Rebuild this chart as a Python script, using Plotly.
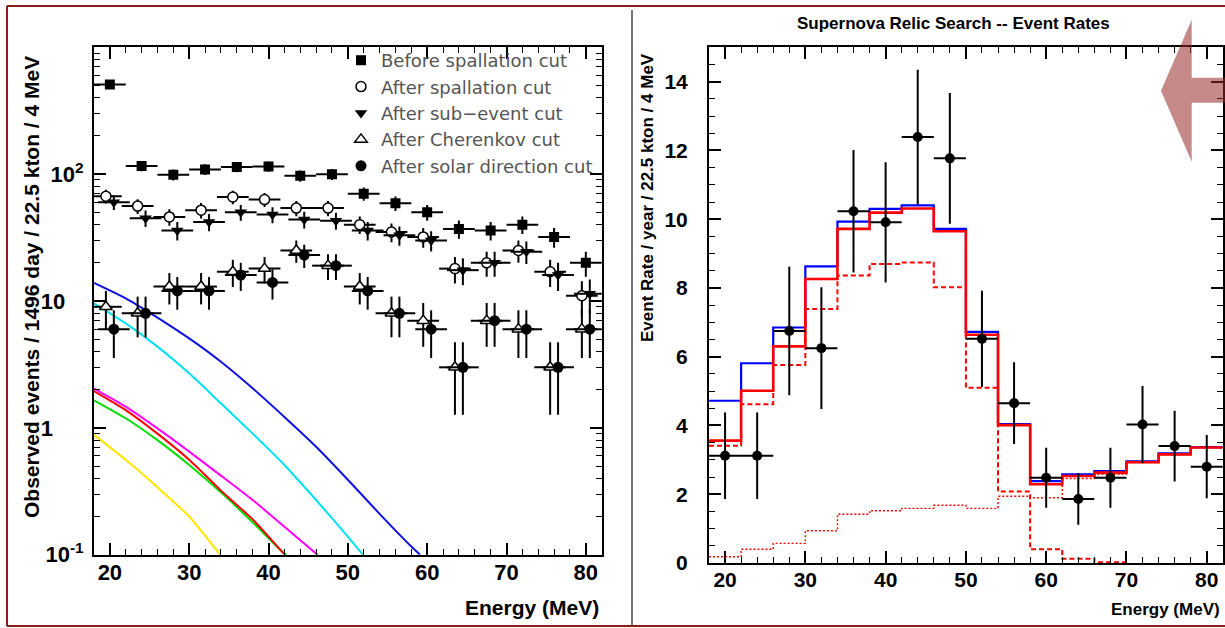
import plotly.graph_objects as go
import math

W, H = 1225, 628

# ---------------- Left panel: observed events ----------------
bin_centers = [20, 24, 28, 32, 36, 40, 44, 48, 52, 56, 60, 64, 68, 72, 76, 80]
before_spallation = [510, 116, 99, 109, 114, 115, 97, 100, 70, 59, 50, 37, 36, 40, 32, 20]
after_spallation = [67, 56, 46, 52, 66, 63, 54, 54, 40, 35, 32, 18, 20, 25, 17, 11]
after_subevent = [60, 45, 36, 42, 50, 48, 44, 43, 36, 33, 30, 17.5, 20, 24.5, 16, 11.4]
after_cherenkov = [9, 8, 13, 13, 17, 18, 25, 19, 13, 8, 7, 3, 7, 6, 3, 6]
after_solar = [6, 8, 12, 12, 16, 14, 23, 19, 12, 8, 6, 3, 7, 6, 3, 6]

# model curves (energy, events)
blue_E = [18, 22, 26, 30, 34, 38, 42, 46, 50, 54, 58, 59.1]
blue_V = [13.9, 10.5, 7.4, 5.07, 3.32, 2.05, 1.22, 0.71, 0.39, 0.21, 0.116, 0.1]
cyan_E = [18, 22, 26, 30, 34, 38, 42, 46, 50, 51.9]
cyan_V = [9.6, 6.66, 4.37, 2.69, 1.56, 0.90, 0.51, 0.27, 0.139, 0.1]
magenta_E = [18, 22, 26, 30, 34, 38, 42, 46, 46.2]
magenta_V = [2.04, 1.47, 0.99, 0.65, 0.42, 0.27, 0.166, 0.102, 0.1]
red_E = [18, 22, 26, 30, 34, 38, 42, 42.1]
red_V = [1.95, 1.38, 0.90, 0.56, 0.32, 0.19, 0.101, 0.1]
green_E = [18, 22, 26, 30, 34, 38, 42, 42.3]
green_V = [1.65, 1.19, 0.80, 0.51, 0.31, 0.18, 0.102, 0.1]
yellow_E = [18, 22, 26, 30, 33.9]
yellow_V = [0.88, 0.56, 0.34, 0.20, 0.1]

# ---------------- Right panel: event rates ----------------
rate = [3.12, 3.12, 6.75, 6.25, 10.23, 9.91, 12.39, 11.77, 6.52, 4.65, 2.48, 1.86, 2.48, 4.03, 3.40, 2.80]
rate_err = [1.26, 1.26, 1.87, 1.77, 1.78, 1.75, 1.96, 1.90, 1.40, 1.19, 0.87, 0.75, 0.87, 1.12, 1.03, 0.92]
blue_hist = [4.72, 5.81, 6.85, 8.63, 9.93, 10.30, 10.40, 9.72, 6.72, 4.04, 2.38, 2.58, 2.67, 2.96, 3.19, 3.37]
red_hist = [3.56, 5.01, 6.30, 8.26, 9.72, 10.19, 10.31, 9.65, 6.64, 4.01, 2.29, 2.53, 2.63, 2.93, 3.16, 3.36]
red_dashed_hist = [3.41, 4.62, 5.76, 7.39, 8.36, 8.70, 8.74, 8.02, 5.10, 2.08, 0.40, 0.12, 0.02]
red_dotted_hist = [0.18, 0.40, 0.57, 0.94, 1.42, 1.52, 1.59, 1.68, 1.59, 1.94, 1.90, 2.46, 2.58, 2.92, 3.15, 3.35]

# tick labels
left_x_ticks = [20, 30, 40, 50, 60, 70, 80]
left_y_ticks = [0.1, 1, 10, 100]
left_y_ticktext = ["10<sup>-1</sup>", "1&nbsp;&nbsp;&nbsp;&nbsp;&nbsp;", "10&nbsp;&nbsp;&nbsp;", "10<sup>2</sup>"]

BIN_HALF = 2


def edges_for(values):
    e = [c - BIN_HALF for c in bin_centers[:len(values)]]
    e.append(bin_centers[len(values) - 1] + BIN_HALF)
    return e


def steps(values):
    return edges_for(values), list(values) + [values[-1]]


def P(x, y):
    return x / W, 1 - y / H


fig = go.Figure()

# ---- left curves
for E, V, col in [(yellow_E, yellow_V, "#ffe600"), (green_E, green_V, "#00dd00"),
                  (red_E, red_V, "#ff0000"), (magenta_E, magenta_V, "#ff00ff"),
                  (cyan_E, cyan_V, "#00e0f0"), (blue_E, blue_V, "#1010e0")]:
    fig.add_trace(go.Scatter(x=E, y=V, mode="lines", line=dict(color=col, width=2, shape="spline", smoothing=0.6),
                             showlegend=False, xaxis="x", yaxis="y", hoverinfo="skip"))

# ---- left data points
def sqrt_err(v):
    return [math.sqrt(a) for a in v]

series = [
    ("Before spallation cut", before_spallation, 0.0, dict(symbol="square", size=10, color="black")),
    ("After spallation cut", after_spallation, -0.5, dict(symbol="circle", size=10, color="white", line=dict(color="black", width=1.5))),
    ("After sub\u2212event cut", after_subevent, 0.5, dict(symbol="triangle-down", size=11, color="black")),
    ("After Cherenkov cut", after_cherenkov, -0.5, dict(symbol="triangle-up", size=11, color="white", line=dict(color="black", width=1.5))),
    ("After solar direction cut", after_solar, 0.5, dict(symbol="circle", size=11, color="black")),
]
for i, (name, vals, off, mk) in enumerate(series):
    fig.add_trace(go.Scatter(
        x=[c + off for c in bin_centers], y=vals, mode="markers", name=name, marker=mk,
        error_x=dict(type="constant", value=BIN_HALF, color="black", thickness=2, width=0),
        error_y=dict(type="data", array=sqrt_err(vals), color="black", thickness=2, width=0),
        xaxis="x", yaxis="y", legendgroup=f"g{i}"))

# ---- right histograms
ex, ey = steps(blue_hist)
fig.add_trace(go.Scatter(x=ex, y=ey, mode="lines", line=dict(color="#0000ff", width=2.2, shape="hv"),
                         showlegend=False, xaxis="x2", yaxis="y2"))
ex, ey = steps(red_dotted_hist)
fig.add_trace(go.Scatter(x=ex, y=ey, mode="lines", line=dict(color="#ff0000", width=1.4, shape="hv", dash="2px,2px"),
                         showlegend=False, xaxis="x2", yaxis="y2"))
ex, ey = steps(red_dashed_hist)
fig.add_trace(go.Scatter(x=ex, y=ey, mode="lines", line=dict(color="#ff0000", width=2, shape="hv", dash="5px,3px"),
                         showlegend=False, xaxis="x2", yaxis="y2"))
ex, ey = steps(red_hist)
fig.add_trace(go.Scatter(x=ex, y=ey, mode="lines", line=dict(color="#ff0000", width=2.6, shape="hv"),
                         showlegend=False, xaxis="x2", yaxis="y2"))
fig.add_trace(go.Scatter(x=bin_centers, y=rate, mode="markers", marker=dict(symbol="circle", size=10, color="black"),
                         error_x=dict(type="constant", value=BIN_HALF, color="black", thickness=2, width=0),
                         error_y=dict(type="data", array=rate_err, color="black", thickness=2, width=0),
                         showlegend=False, xaxis="x2", yaxis="y2"))

FONT = "Liberation Sans"
tf_left = dict(family=FONT, size=22, color="black", weight="bold")
tf_right = dict(family=FONT, size=21, color="black", weight="bold")
tick_style = dict(ticks="inside", ticklen=12, tickwidth=1.5, tickcolor="black", showline=True, linewidth=2,
                  linecolor="black", mirror="allticks", showgrid=False, zeroline=False, automargin=False)
minor_x = dict(ticks="inside", ticklen=6, tickwidth=1.2, tickcolor="black", dtick=2, tick0=18, showgrid=False)

fig.update_layout(
    width=W, height=H, margin=dict(l=0, r=0, t=0, b=0, autoexpand=False),
    paper_bgcolor="white", plot_bgcolor="white",
    xaxis=dict(domain=[94 / W, 601.7 / W], anchor="y", range=[18, 82], tickvals=left_x_ticks,
               tickfont=tf_left, ticklabelstandoff=-3, minor=minor_x, **tick_style),
    yaxis=dict(domain=[(H - 554.7) / H, (H - 47.3) / H], anchor="x", type="log", range=[-1, 3],
               tickvals=left_y_ticks, ticktext=left_y_ticktext, tickfont=tf_left, ticklabelstandoff=4,
               minor=dict(ticks="inside", ticklen=6, tickwidth=1.2, tickcolor="black", dtick="D1", showgrid=False),
               **tick_style),
    xaxis2=dict(domain=[709 / W, 1222.8 / W], anchor="y2", range=[18, 82], tickvals=left_x_ticks,
                tickfont=tf_right, ticklabelstandoff=-3, minor=minor_x, **tick_style),
    yaxis2=dict(domain=[(H - 563) / H, (H - 47.3) / H], anchor="x2", range=[0, 15], dtick=2, tick0=0,
                tickfont=tf_right, ticklabelstandoff=15,
                minor=dict(ticks="inside", ticklen=6, tickwidth=1.2, tickcolor="black", dtick=0.5, showgrid=False),
                **tick_style),
    legend=dict(x=341 / W, y=1 - 42 / H, xanchor="left", yanchor="top", bgcolor="rgba(0,0,0,0)",
                font=dict(family="DejaVu Sans", size=18, color="#555555"), tracegroupgap=0, itemwidth=30),
    showlegend=True,
)

ann = [
    dict(text="Observed events / 1496 day / 22.5 kton / 4 MeV", pos=(31, 287), size=21, angle=-90, xa="center"),
    dict(text="Event Rate / year / 22.5 kton / 4 MeV", pos=(647, 198), size=17, angle=-90, xa="center"),
    dict(text="Energy (MeV)", pos=(601, 607), size=21, angle=0, xa="right"),
    dict(text="Energy (MeV)", pos=(1222, 609), size=17, angle=0, xa="right"),
    dict(text="Supernova Relic Search -- Event Rates", pos=(953, 23), size=17, angle=0, xa="center"),
]
for a in ann:
    px, py = P(*a["pos"])
    fig.add_annotation(text=a["text"], x=px, y=py, xref="paper", yref="paper", showarrow=False,
                       textangle=a["angle"], xanchor=a["xa"], yanchor="middle",
                       font=dict(family=FONT, size=a["size"], color="black", weight="bold"))

# slide decorations: frame, separator, arrow
frame_col = "#8b1c1c"
for (x0, y0, x1, y1, col, w) in [(7, 6, W, 6, frame_col, 2), (7, 626, W, 626, frame_col, 2),
                                  (7, 6, 7, 626, frame_col, 2), (632, 10, 632, 626, "#444444", 1.5)]:
    a0 = P(x0, y0)
    a1 = P(x1, y1)
    fig.add_shape(type="line", xref="paper", yref="paper", x0=a0[0], y0=a0[1], x1=a1[0], y1=a1[1],
                  line=dict(color=col, width=w))

arrow_pts = [(1161, 90.7), (1191.7, 19.7), (1191.7, 77.7), (1226, 77.7), (1226, 102.7), (1191.7, 102.7), (1191.7, 161.7)]
path = "M " + " L ".join(f"{P(x, y)[0]:.5f},{P(x, y)[1]:.5f}" for x, y in arrow_pts) + " Z"
fig.add_shape(type="path", path=path, xref="paper", yref="paper", fillcolor="rgba(150,40,40,0.55)",
              line=dict(width=0), layer="above")

fig.write_html("out.html", config={"displayModeBar": False},
               post_script="document.body.style.margin='0';document.body.style.padding='0';")
